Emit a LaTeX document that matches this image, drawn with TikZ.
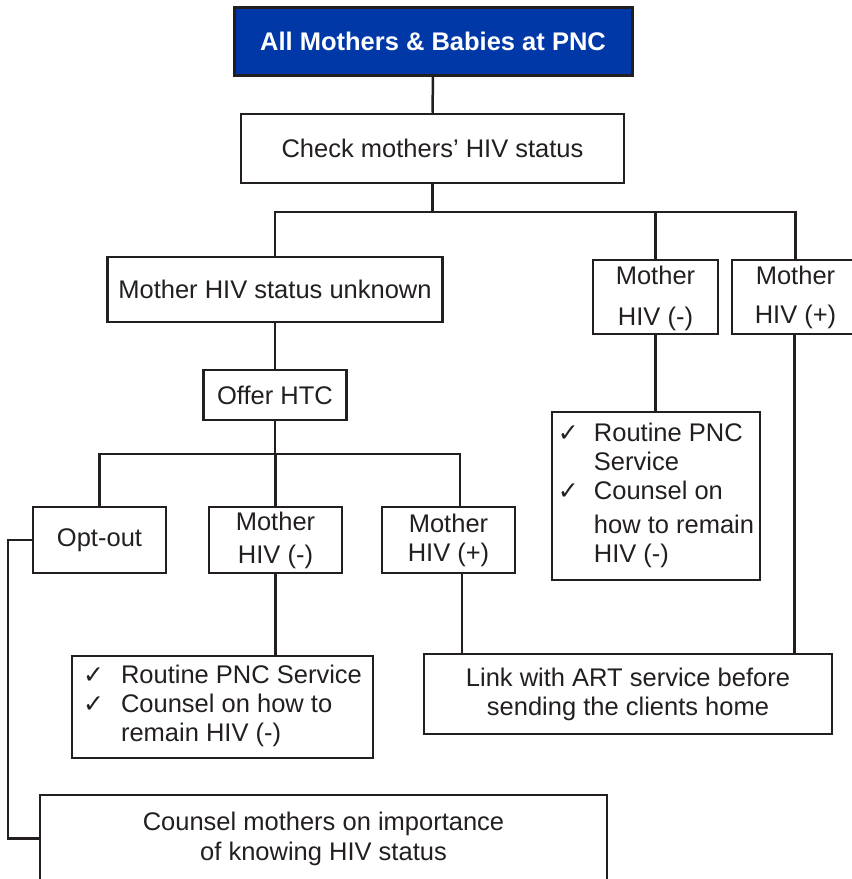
\documentclass[tikz,border=0pt]{standalone}
\usepackage{fontspec}
\setmainfont{Liberation Sans}
\newfontfamily\tickfont{DejaVu Sans}
\definecolor{ink}{HTML}{231F20}
\definecolor{pncblue}{HTML}{0038A8}
% check mark used in the service lists
\newcommand\chkmark{{\tickfont\fontsize{25}{25}\selectfont ✓}}
\begin{document}
\begin{tikzpicture}[x=1pt,y=-1pt,
  every node/.style={font=\fontsize{25.5}{29}\selectfont, text=ink},
  box/.style={draw=ink, line width=2.5pt, inner sep=0pt, align=center},
  wire/.style={draw=ink, line width=2.5pt}]
\useasboundingbox (0,0) rectangle (852,879);

% boxes
\node[box, fill=pncblue, text=white, line width=3pt, font=\fontsize{25.5}{29}\selectfont\bfseries,
      minimum width=398pt, minimum height=68pt] (top) at (433,41) {All Mothers \& Babies at PNC};
\node[box, minimum width=383pt, minimum height=69pt] (check) at (432.5,148.5) {Check mothers’ HIV status};
\node[box, minimum width=335pt, minimum height=65pt] (unknown) at (275,289.5) {Mother HIV status unknown};
\node[box, minimum width=125pt, minimum height=74pt] (rneg) at (655.5,297) {\rule{0pt}{22pt}Mother\\[12pt]HIV (-)};
\node[box, minimum width=127pt, minimum height=74pt] (rpos) at (795.5,297) {Mother\\[10pt]HIV (+)};
\node[box, minimum width=143pt, minimum height=50pt] (htc) at (275,395) {Offer HTC};
\node[box, minimum width=133pt, minimum height=66pt] (optout) at (99.5,540) {Opt-out};
\node[box, minimum width=133pt, minimum height=66pt] (lneg) at (275.5,540) {Mother\\[4pt]HIV (-)};
\node[box, minimum width=133pt, minimum height=66pt] (lpos) at (448.5,540) {Mother\\HIV (+)};
\node[box, minimum width=208pt, minimum height=168pt] (rpnc) at (656,496)
  {\begin{tabular}{@{}p{36pt}@{}l@{}}
   \chkmark & Routine PNC\\
            & Service\\
   \chkmark & Counsel on\\[5pt]
            & how to remain\\
            & HIV (-)
   \end{tabular}};
\node[box, minimum width=301pt, minimum height=102pt] (lpnc) at (222.5,707)
  {\begin{tabular}{@{}p{38pt}@{}l@{}}
   \chkmark & Routine PNC Service\\
   \chkmark & Counsel on how to\\
            & remain HIV (-)
   \end{tabular}};
\node[box, minimum width=408pt, minimum height=80pt] (link) at (628,694)
  {Link with ART service before\\sending the clients home};
\node[box, minimum width=567pt, minimum height=87pt] (counsel) at (323.5,838.5)
  {Counsel mothers on importance\\[1pt]of knowing HIV status};

% junction points
\coordinate (split1) at (432.5,212);
\coordinate (split2) at (275,454);

% connectors
\draw[wire] (top.south) -- (check.north);
\draw[wire] (check.south) -- (split1);
\draw[wire] (unknown.north) |- (split1) -| (rpos.north);
\draw[wire] (rneg.north) -- (rneg.north |- split1);
\draw[wire] (unknown.south) -- (htc.north);
\draw[wire] (htc.south) -- (split2);
\draw[wire] (optout.north) |- (split2) -| ([xshift=11.5pt]lpos.north);
\draw[wire] (lneg.north) -- (lneg.north |- split2);
\draw[wire] (lneg.south) -- (lneg.south |- lpnc.north);
\draw[wire] ([xshift=13.5pt]lpos.south) -- ([xshift=13.5pt]lpos.south |- link.north);
\draw[wire] (rneg.south) -- (rneg.south |- rpnc.north);
\draw[wire] ([xshift=-1pt]rpos.south) -- ([xshift=-1pt]rpos.south |- link.north);
\draw[wire] (optout.west) -- ++(-24,0) |- (counsel.west);
\end{tikzpicture}
\end{document}
